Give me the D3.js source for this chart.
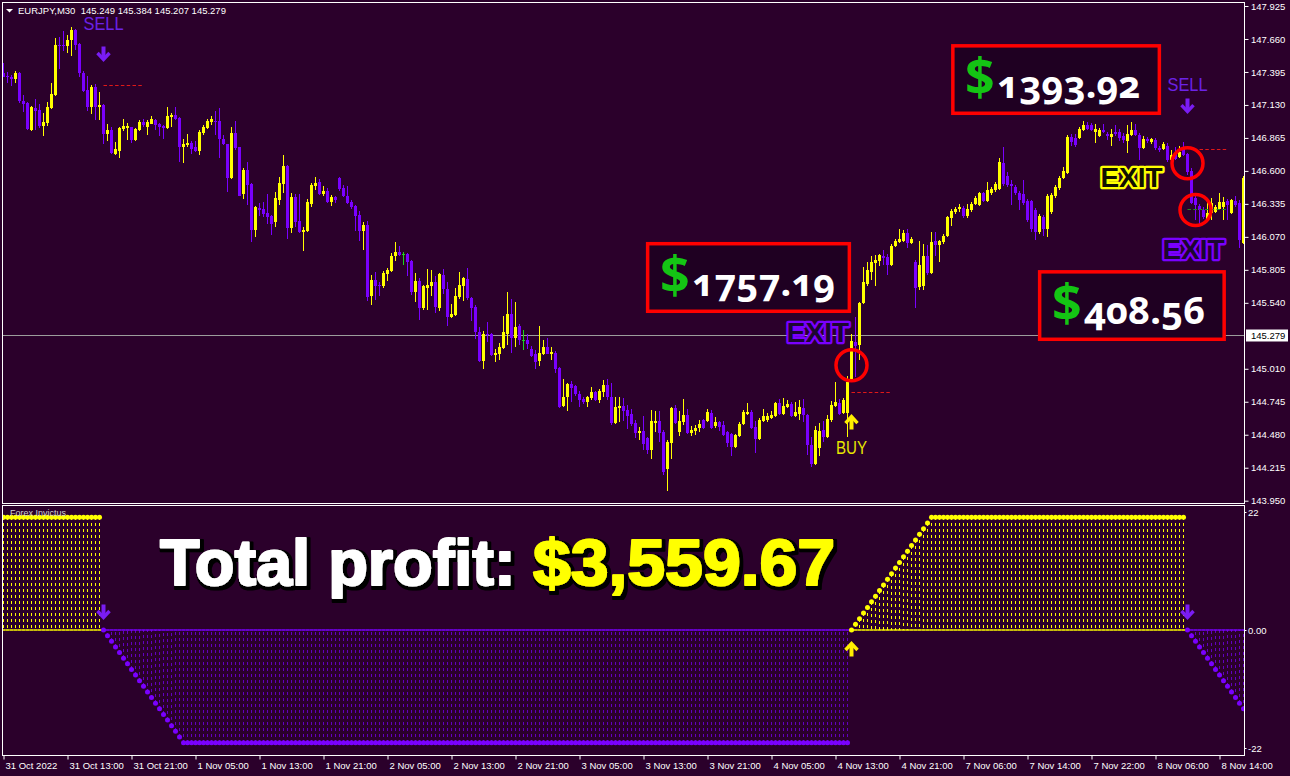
<!DOCTYPE html>
<html><head><meta charset="utf-8">
<script src="https://cdn.jsdelivr.net/npm/d3@7"></script>
<style>
html,body{margin:0;padding:0;background:#2b002b;}
svg{display:block;}
</style></head>
<body>
<svg id="chart" width="1290" height="776"></svg>
<script>
// ---------------- DATA ----------------
const symbolTitle = "EURJPY,M30";
const headerValues = ["145.249", "145.384", "145.207", "145.279"];
const currentPrice = 145.279;
const indicatorName = "Forex Invictus";

const opens = [
147.389,147.362,147.357,147.338,147.386,147.162,147.145,146.928,147.105,147.089,
146.961,146.987,147.105,147.210,147.611,147.611,147.603,147.652,147.732,147.619,
147.384,147.250,147.111,147.274,147.111,147.129,146.896,146.928,146.736,146.760,
146.936,146.945,146.950,146.848,146.928,146.993,146.950,146.977,147.009,146.977,
146.961,146.945,147.033,147.049,147.025,146.792,146.808,146.824,146.792,146.760,
146.904,146.945,146.993,147.001,147.001,146.856,146.816,146.543,146.904,146.792,
146.417,146.607,146.495,146.127,146.304,146.294,146.262,146.237,146.192,146.366,
146.495,146.642,146.141,146.390,146.197,146.109,146.117,146.334,146.479,146.511,
146.414,146.438,146.350,146.390,146.543,146.462,146.398,146.350,146.318,146.245,
146.117,146.165,145.595,145.723,145.683,145.675,145.771,145.796,145.916,145.948,
145.932,145.932,145.876,145.627,145.715,145.498,145.659,145.675,145.707,145.498,
145.763,145.651,145.426,145.442,145.587,145.675,145.731,145.579,145.506,145.305,
145.072,145.289,145.289,145.121,145.129,145.177,145.289,145.450,145.257,145.354,
145.241,145.241,145.169,145.129,145.072,145.129,145.185,145.129,145.137,145.016,
144.711,144.783,144.888,144.871,144.807,144.767,144.743,144.775,144.823,144.759,
144.823,144.880,144.783,144.574,144.695,144.711,144.679,144.647,144.574,144.494,
144.510,144.454,144.357,144.574,144.590,144.502,144.205,144.413,144.695,144.502,
144.582,144.638,144.494,144.510,144.534,144.598,144.590,144.655,144.550,144.582,
144.558,144.502,144.486,144.381,144.470,144.566,144.647,144.663,144.542,144.446,
144.590,144.598,144.614,144.630,144.735,144.647,144.703,144.727,144.630,144.647,
144.695,144.638,144.397,144.245,144.373,144.518,144.462,144.598,144.711,144.735,
144.655,144.655,144.904,145.225,145.201,145.538,145.691,145.788,145.860,145.876,
145.916,145.908,145.844,145.996,146.029,146.037,146.101,146.021,145.868,145.667,
145.675,145.916,145.780,146.037,146.005,146.029,146.077,146.221,146.270,146.294,
146.302,146.237,146.286,146.334,146.326,146.422,146.358,146.422,146.446,146.454,
146.663,146.559,146.495,146.470,146.422,146.414,146.358,146.358,146.286,146.109,
146.229,146.133,146.270,146.398,146.462,146.543,146.583,146.872,146.864,146.864,
146.928,146.969,146.969,146.912,146.880,146.928,146.896,146.872,146.912,146.912,
146.880,146.840,146.888,146.928,146.888,146.784,146.856,146.832,146.848,146.784,
146.776,146.800,146.687,146.736,146.712,146.776,146.736,146.599,146.382,146.318,
146.286,146.213,146.262,146.270,146.294,146.310,146.358,146.262,146.358,146.342,
146.021];

const highs = [
147.464,147.397,147.370,147.403,147.394,147.210,147.150,147.121,147.178,147.137,
147.067,147.153,147.306,147.665,147.673,147.724,147.692,147.758,147.738,147.625,
147.403,147.362,147.290,147.298,147.234,147.135,146.977,146.950,146.832,146.955,
147.017,146.982,146.955,146.945,147.009,147.014,147.009,147.041,147.014,146.982,
146.966,147.113,147.065,147.113,147.035,146.856,146.896,146.840,146.840,146.928,
146.969,147.017,147.041,147.084,147.103,146.888,146.820,146.953,147.001,146.795,
146.623,146.671,146.500,146.315,146.342,146.350,146.414,146.245,146.430,146.551,
146.728,146.645,146.422,146.414,146.414,146.149,146.374,146.503,146.551,146.535,
146.479,146.462,146.406,146.395,146.548,146.487,146.479,146.366,146.326,146.278,
146.189,146.197,145.763,145.788,145.707,145.796,145.820,145.940,146.029,145.996,
145.948,145.937,145.884,145.780,145.739,145.683,145.812,145.804,145.755,145.780,
145.812,145.707,145.530,145.659,145.788,145.747,145.820,145.587,145.522,145.346,
145.313,145.386,145.297,145.169,145.217,145.434,145.627,145.571,145.546,145.370,
145.321,145.289,145.193,145.161,145.354,145.241,145.257,145.185,145.153,145.024,
144.928,144.892,144.912,144.880,144.831,144.783,144.791,144.863,144.831,144.847,
144.920,144.928,144.896,144.783,144.783,144.775,144.719,144.687,144.598,144.542,
144.630,144.462,144.679,144.671,144.671,144.518,144.438,144.703,144.719,144.671,
144.767,144.687,144.550,144.558,144.598,144.606,144.687,144.679,144.622,144.590,
144.590,144.510,144.494,144.486,144.582,144.679,144.735,144.679,144.590,144.614,
144.687,144.655,144.671,144.743,144.767,144.775,144.759,144.743,144.743,144.759,
144.767,144.647,144.462,144.550,144.574,144.590,144.638,144.751,144.904,144.767,
144.775,144.952,145.289,145.426,145.545,145.828,145.868,145.916,145.924,145.932,
145.964,145.932,146.013,146.053,146.133,146.125,146.133,146.069,145.884,146.037,
146.013,146.005,146.109,146.109,146.045,146.093,146.237,146.294,146.310,146.334,
146.318,146.334,146.350,146.398,146.430,146.430,146.511,146.470,146.511,146.703,
146.792,146.591,146.527,146.487,146.438,146.527,146.374,146.366,146.302,146.254,
146.245,146.414,146.422,146.487,146.559,146.631,146.888,146.896,146.896,146.953,
147.001,146.993,146.985,146.977,146.945,146.977,146.912,146.936,146.969,146.936,
146.904,146.969,146.993,146.977,146.904,146.880,146.872,146.864,146.864,146.800,
146.832,146.824,146.768,146.792,146.800,146.832,146.744,146.623,146.398,146.334,
146.310,146.366,146.382,146.326,146.422,146.390,146.374,146.374,146.398,146.366,
146.559];

const lows = [
147.352,147.304,147.284,147.304,147.143,147.076,146.928,146.920,146.928,146.945,
146.880,146.961,147.100,147.202,147.419,147.563,147.550,147.523,147.571,147.357,
147.234,147.084,147.057,147.009,147.009,146.816,146.842,146.736,146.730,146.706,
146.920,146.848,146.826,146.842,146.918,146.955,146.888,146.974,146.928,146.880,
146.856,146.940,146.950,147.009,146.674,146.663,146.792,146.736,146.752,146.730,
146.888,146.936,146.969,146.888,146.703,146.810,146.430,146.535,146.768,146.398,
146.376,146.328,146.031,146.071,146.237,146.229,146.173,146.085,146.151,146.326,
146.422,146.053,146.103,146.151,146.105,145.956,146.109,146.312,146.446,146.406,
146.398,146.342,146.318,146.342,146.438,146.390,146.334,146.294,146.117,146.037,
145.964,145.554,145.522,145.563,145.595,145.659,145.715,145.790,145.876,145.916,
145.844,145.755,145.603,145.546,145.402,145.482,145.482,145.595,145.458,145.474,
145.611,145.354,145.418,145.434,145.571,145.554,145.563,145.394,145.249,145.064,
145.008,145.225,145.113,145.064,145.080,145.169,145.201,145.137,145.185,145.201,
145.161,145.169,145.104,145.008,145.032,145.121,145.125,145.080,144.976,144.695,
144.703,144.671,144.743,144.791,144.703,144.727,144.703,144.759,144.755,144.735,
144.783,144.759,144.558,144.570,144.582,144.590,144.526,144.550,144.454,144.438,
144.357,144.325,144.285,144.502,144.421,144.156,144.028,144.285,144.566,144.470,
144.558,144.486,144.470,144.478,144.502,144.526,144.582,144.526,144.534,144.510,
144.470,144.381,144.309,144.373,144.462,144.558,144.638,144.526,144.333,144.438,
144.582,144.582,144.606,144.622,144.638,144.638,144.695,144.622,144.622,144.598,
144.582,144.317,144.221,144.237,144.309,144.421,144.454,144.582,144.703,144.638,
144.647,144.462,144.900,144.944,145.080,145.530,145.675,145.723,145.675,145.836,
145.844,145.763,145.836,145.988,146.021,146.029,145.980,146.013,145.498,145.643,
145.643,145.763,145.775,145.916,145.868,146.013,146.069,146.157,146.254,146.270,
146.221,146.221,146.270,146.326,146.318,146.350,146.350,146.406,146.430,146.446,
146.479,146.470,146.326,146.406,146.286,146.326,146.189,146.109,146.045,146.093,
146.077,146.069,146.254,146.382,146.446,146.535,146.575,146.800,146.792,146.856,
146.920,146.928,146.920,146.824,146.872,146.904,146.848,146.800,146.880,146.840,
146.824,146.744,146.880,146.880,146.687,146.776,146.824,146.816,146.768,146.752,
146.768,146.671,146.655,146.687,146.703,146.720,146.567,146.334,146.205,146.165,
146.213,146.205,146.205,146.262,146.286,146.205,146.205,146.254,146.310,145.980,
146.013];

const closes = [
147.357,147.354,147.338,147.389,147.162,147.140,146.936,147.113,147.081,146.961,
146.993,147.113,147.218,147.611,147.603,147.603,147.652,147.732,147.611,147.384,
147.242,147.111,147.274,147.111,147.129,146.896,146.928,146.741,146.773,146.945,
146.961,146.961,146.848,146.936,146.993,146.966,146.993,147.017,146.969,146.953,
146.945,147.041,147.051,147.017,146.792,146.816,146.824,146.776,146.760,146.912,
146.953,147.001,147.017,146.993,146.856,146.816,146.545,146.904,146.784,146.401,
146.607,146.489,146.127,146.310,146.288,146.256,146.229,146.176,146.382,146.503,
146.642,146.141,146.390,146.189,146.109,146.127,146.352,146.487,146.503,146.414,
146.438,146.350,146.390,146.366,146.454,146.398,146.342,146.310,146.237,146.117,
146.165,145.587,145.723,145.675,145.675,145.780,145.804,145.916,145.948,145.924,
145.932,145.868,145.627,145.715,145.498,145.675,145.683,145.707,145.506,145.771,
145.651,145.426,145.450,145.595,145.683,145.739,145.579,145.498,145.305,145.072,
145.289,145.281,145.121,145.137,145.185,145.305,145.450,145.257,145.346,145.241,
145.241,145.209,145.113,145.064,145.137,145.185,145.129,145.145,145.008,144.703,
144.783,144.888,144.855,144.807,144.759,144.743,144.783,144.823,144.759,144.831,
144.880,144.783,144.574,144.703,144.711,144.671,144.630,144.566,144.494,144.510,
144.405,144.357,144.590,144.590,144.494,144.180,144.421,144.695,144.574,144.590,
144.638,144.494,144.518,144.534,144.566,144.534,144.663,144.534,144.582,144.542,
144.478,144.413,144.381,144.478,144.566,144.663,144.663,144.534,144.446,144.598,
144.630,144.630,144.638,144.735,144.647,144.711,144.727,144.630,144.663,144.703,
144.638,144.397,144.245,144.518,144.510,144.462,144.606,144.719,144.743,144.647,
144.759,144.904,145.233,145.193,145.538,145.707,145.804,145.868,145.884,145.924,
145.900,145.844,145.996,146.037,146.053,146.101,146.021,146.053,145.659,145.844,
145.916,145.780,146.029,146.005,146.037,146.077,146.229,146.278,146.294,146.310,
146.237,146.294,146.334,146.382,146.422,146.358,146.446,146.454,146.495,146.671,
146.495,146.487,146.479,146.422,146.366,146.342,146.205,146.133,146.109,146.237,
146.133,146.398,146.406,146.470,146.543,146.599,146.872,146.832,146.808,146.936,
146.969,146.936,146.928,146.936,146.928,146.912,146.880,146.896,146.896,146.864,
146.848,146.896,146.928,146.888,146.784,146.856,146.840,146.856,146.784,146.768,
146.816,146.687,146.728,146.695,146.752,146.728,146.591,146.342,146.326,146.286,
146.229,146.262,146.342,146.310,146.350,146.350,146.326,146.366,146.326,146.045,
146.543];

// Forex Invictus indicator value per bar
const indicatorValues = [
21,21,21,21,21,21,21,21,21,21,
21,21,21,21,21,21,21,21,21,21,
21,21,21,21,21,
0,-1.05,-2.1,-3.15,-4.2,-5.25,-6.3,-7.35,-8.4,-9.45,
-10.5,-11.55,-12.6,-13.65,-14.7,-15.75,-16.8,-17.85,-18.9,-19.95,-21,
-21,-21,-21,-21,-21,-21,-21,-21,-21,-21,
-21,-21,-21,-21,-21,-21,-21,-21,-21,-21,
-21,-21,-21,-21,-21,-21,-21,-21,-21,-21,
-21,-21,-21,-21,-21,-21,-21,-21,-21,-21,
-21,-21,-21,-21,-21,-21,-21,-21,-21,-21,
-21,-21,-21,-21,-21,-21,-21,-21,-21,-21,
-21,-21,-21,-21,-21,-21,-21,-21,-21,-21,
-21,-21,-21,-21,-21,-21,-21,-21,-21,-21,
-21,-21,-21,-21,-21,-21,-21,-21,-21,-21,
-21,-21,-21,-21,-21,-21,-21,-21,-21,-21,
-21,-21,-21,-21,-21,-21,-21,-21,-21,-21,
-21,-21,-21,-21,-21,-21,-21,-21,-21,-21,
-21,-21,-21,-21,-21,-21,-21,-21,-21,-21,
-21,-21,-21,-21,-21,-21,-21,-21,-21,-21,
-21,-21,-21,-21,-21,-21,-21,-21,-21,-21,
-21,-21,-21,-21,-21,-21,-21,-21,-21,-21,
-21,-21,-21,-21,-21,-21,
0,1.05,2.1,3.15,4.2,5.25,6.3,7.35,8.4,9.45,
10.5,11.55,12.6,13.65,14.7,15.75,16.8,17.85,18.9,19.95,21,
21,21,21,21,21,21,21,21,21,21,
21,21,21,21,21,21,21,21,21,21,
21,21,21,21,21,21,21,21,21,21,
21,21,21,21,21,21,21,21,21,21,
21,21,21,21,21,21,21,21,21,21,
21,21,21,21,21,21,21,21,21,21,
21,21,21,
0,-1.05,-2.1,-3.15,-4.2,-5.25,-6.3,-7.35,-8.4,-9.45,
-10.5,-11.55,-12.6,-13.65,-14.7];

const priceTicks = [147.925,147.660,147.395,147.130,146.865,146.600,146.335,146.070,145.805,145.540,145.010,144.745,144.480,144.215,143.950];
const indicatorTicks = [22, 0, -22];
const indicatorTickLabels = ["22", "0.00", "-22"];
const timeTickBars = [0,16,32,48,64,80,96,112,128,144,160,176,192,208,224,240,256,272,288,304];
const timeTickLabels = ["31 Oct 2022","31 Oct 13:00","31 Oct 21:00","1 Nov 05:00","1 Nov 13:00","1 Nov 21:00",
  "2 Nov 05:00","2 Nov 13:00","2 Nov 21:00","3 Nov 05:00","3 Nov 13:00","3 Nov 21:00","4 Nov 05:00",
  "4 Nov 13:00","4 Nov 21:00","7 Nov 06:00","7 Nov 14:00","7 Nov 22:00","8 Nov 06:00","8 Nov 14:00"];

const signalBars = [25, 212, 296];
const signalTypes = ["SELL", "BUY", "SELL"];
const signalArrowPrices = [147.483, 144.638, 147.065];
const signalTextPrices = [147.732, 144.325, 147.242];

const levelFrom = [25, 212, 299, 296];
const levelTo = [35, 222, 306, 306];
const levelPrices = [147.290, 144.823, 146.776, 146.294];
const levelKinds = ["stop", "stop", "stop", "target"];

const exitCircleBars = [212, 296, 298];
const exitCirclePrices = [145.038, 146.661, 146.286];

const exitLabelBars = [203.6, 282, 297.5];
const exitLabelPrices = [145.225, 146.470, 145.892];
const exitLabelKinds = ["SELL", "BUY", "SELL"];

const profitLabels = ["1757.19", "1393.92", "408.56"];
const profitBarFrom = [160.6, 236.9, 258.6];
const profitBarTo = [211.9, 289.4, 305.6];
const profitPriceTop = [146.029, 147.619, 145.803];
const profitPriceBottom = [145.458, 147.049, 145.233];

const totalProfitLabel = "Total profit:";
const totalProfitValue = "$3,559.67";

// ---------------- DRAWING ----------------
const W = 1290, H = 776;
const col = {
  bg: "#2b002b", bull: "#ffff00", bear: "#7a00ff", doji: "#1fd21f",
  frame: "#ffffff", text: "#ffffff", bid: "#9c9c9c", red: "#ff0000",
  sellText: "#6c22e6", buyText: "#e6e600", boxFill: "#1f0022", dollar: "#14c414", green: "#1e8c1e"
};
const pane = {left: 2.5, right: 1244.5, top: 2.5, bottom: 503.5};
const ipane = {top: 505.5, bottom: 755.5};
const AX = "'Liberation Sans', Arial, sans-serif";
const AXS = 9.5;

const svg = d3.select("#chart");
svg.append("rect").attr("width", W).attr("height", H).attr("fill", col.bg);

const nBars = opens.length;
const x = d3.scaleLinear().domain([0, nBars - 1]).range([3.5, 1243.5]);
const y = d3.scaleLinear().domain([143.950, 147.925]).range([500.7, 6]);
const yi = d3.scaleLinear().domain([-22, 22]).range([748, 512]);

const defs = svg.append("defs");
defs.append("clipPath").attr("id", "clipP").append("rect")
  .attr("x", pane.left).attr("y", pane.top).attr("width", pane.right - pane.left).attr("height", pane.bottom - pane.top);
defs.append("clipPath").attr("id", "clipI").append("rect")
  .attr("x", pane.left).attr("y", ipane.top).attr("width", pane.right - pane.left).attr("height", ipane.bottom - ipane.top);
const flt = defs.append("filter").attr("id", "outline").attr("x", "-10%").attr("y", "-20%").attr("width", "120%").attr("height", "150%");
flt.append("feMorphology").attr("in", "SourceAlpha").attr("operator", "dilate").attr("radius", 2.2).attr("result", "dil");
flt.append("feOffset").attr("in", "dil").attr("dx", 1.5).attr("dy", 2).attr("result", "off");
flt.append("feFlood").attr("flood-color", "#000").attr("result", "blk");
flt.append("feComposite").attr("in", "blk").attr("in2", "off").attr("operator", "in").attr("result", "shadow");
const fm = flt.append("feMerge");
fm.append("feMergeNode").attr("in", "shadow");
fm.append("feMergeNode").attr("in", "SourceGraphic");

const bars = opens.map((o, i) => ({i, o, h: highs[i], l: lows[i], c: closes[i]}));
const candleColor = d => d.c > d.o ? col.bull : (d.c < d.o ? col.bear : col.doji);

// regime per bar (from signals)
const regime = bars.map(d => {
  let t = signalTypes[0] === "SELL" ? "BUY" : "SELL";
  signalBars.forEach((b, k) => { if (d.i >= b) t = signalTypes[k]; });
  return t;
});
const regimeColor = i => regime[i] === "BUY" ? col.bull : col.bear;

// ---- price pane ----
const gP = svg.append("g").attr("clip-path", "url(#clipP)");

// bid line
const yBid = Math.round(y(currentPrice)) + 0.5;
gP.append("line").attr("x1", pane.left).attr("x2", pane.right).attr("y1", yBid).attr("y2", yBid)
  .attr("stroke", col.bid).attr("stroke-width", 1);

// candles
const gC = gP.append("g").attr("shape-rendering", "crispEdges");
gC.selectAll("rect.wick").data(bars).join("rect").attr("class", "wick")
  .attr("x", d => x(d.i) - 0.5).attr("width", 1)
  .attr("y", d => Math.round(y(d.h)))
  .attr("height", d => Math.max(1, Math.round(y(d.l)) - Math.round(y(d.h))))
  .attr("fill", candleColor);
gC.selectAll("rect.body").data(bars).join("rect").attr("class", "body")
  .attr("x", d => x(d.i) - 1.5).attr("width", 3)
  .attr("y", d => Math.round(Math.min(y(d.o), y(d.c))))
  .attr("height", d => Math.max(1, Math.round(Math.max(y(d.o), y(d.c))) - Math.round(Math.min(y(d.o), y(d.c)))))
  .attr("fill", candleColor);

// level lines
levelPrices.forEach((p, k) => {
  const yy = Math.round(y(p)) + 0.5;
  gP.append("line").attr("x1", x(levelFrom[k])).attr("x2", x(levelTo[k]))
    .attr("y1", yy).attr("y2", yy)
    .attr("stroke", levelKinds[k] === "stop" ? "#e01818" : col.green)
    .attr("stroke-width", 1).attr("stroke-dasharray", "3.5,2.3");
});

function arrow(g, cx, tipY, dir, color) {
  // dir = 1 pointing down, -1 pointing up
  g.append("line").attr("x1", cx).attr("x2", cx)
    .attr("y1", tipY - dir * 14.5).attr("y2", tipY - dir * 3)
    .attr("stroke", color).attr("stroke-width", 4);
  g.append("path")
    .attr("d", `M${cx - 6},${tipY - dir * 8} L${cx},${tipY - dir * 1.5} L${cx + 6},${tipY - dir * 8}`)
    .attr("fill", "none").attr("stroke", color).attr("stroke-width", 3.4).attr("stroke-linejoin", "miter");
}

// signals
signalBars.forEach((b, k) => {
  const isSell = signalTypes[k] === "SELL";
  const c = isSell ? "#7a1cf4" : "#ffee00";
  arrow(gP, x(b), y(signalArrowPrices[k]), isSell ? 1 : -1, c);
  gP.append("text").attr("x", x(b)).attr("y", y(signalTextPrices[k]))
    .attr("text-anchor", "middle").attr("font-family", AX).attr("font-size", 18)
    .attr("textLength", isSell ? 40 : 31).attr("lengthAdjust", "spacingAndGlyphs")
    .attr("fill", isSell ? col.sellText : col.buyText).text(signalTypes[k]);
});

// exit circles
exitCircleBars.forEach((b, k) => {
  gP.append("circle").attr("cx", x(b)).attr("cy", y(exitCirclePrices[k])).attr("r", 15.5)
    .attr("fill", "none").attr("stroke", col.red).attr("stroke-width", 3.5);
});

// EXIT labels
exitLabelBars.forEach((b, k) => {
  const isSell = exitLabelKinds[k] === "SELL";
  gP.append("text").attr("x", x(b)).attr("y", y(exitLabelPrices[k]))
    .attr("text-anchor", "middle").attr("font-family", AX).attr("font-weight", "bold").attr("font-size", 28)
    .attr("fill", isSell ? "#1c0630" : "#121000")
    .attr("stroke", isSell ? "#7a00ff" : "#ffff00").attr("stroke-width", 4.6)
    .attr("stroke-linejoin", "round").attr("paint-order", "stroke")
    .text("EXIT");
});

// profit boxes
profitLabels.forEach((lab, k) => {
  const x0 = x(profitBarFrom[k]), x1 = x(profitBarTo[k]);
  const y0 = y(profitPriceTop[k]), y1 = y(profitPriceBottom[k]);
  const g = gP.append("g");
  g.append("rect").attr("x", x0 + 1.75).attr("y", y0 + 1.75)
    .attr("width", x1 - x0 - 3.5).attr("height", y1 - y0 - 3.5)
    .attr("fill", col.boxFill).attr("stroke", col.red).attr("stroke-width", 3.5);
  g.append("text").attr("x", x0 + 14).attr("y", y0 + 52)
    .attr("font-family", "'Noto Sans', 'Liberation Sans', sans-serif").attr("font-weight", "bold").attr("font-size", 52)
    .attr("fill", col.dollar).text("$");
  g.append("text").attr("x", x0 + 46).attr("y", y0 + 54)
    .attr("font-family", "'Noto Sans', 'Liberation Sans', sans-serif").attr("font-weight", "bold").attr("font-size", 38)
    .style("font-variant-numeric", "oldstyle-nums")
    .attr("fill", "#ffffff").text(lab);
});

// ---- indicator pane ----
const gI = svg.append("g").attr("clip-path", "url(#clipI)");
const y0i = yi(0);
// histogram (dashed)
gI.append("g").selectAll("line").data(bars.filter(d => indicatorValues[d.i] !== 0)).join("line")
  .attr("x1", d => x(d.i)).attr("x2", d => x(d.i))
  .attr("y1", d => yi(indicatorValues[d.i])).attr("y2", y0i)
  .attr("stroke", d => regimeColor(d.i)).attr("stroke-width", 1)
  .attr("stroke-dasharray", "3,3").attr("shape-rendering", "crispEdges")
  .attr("opacity", d => regime[d.i] === "BUY" ? 1 : 0.7);
// zero signal line
gI.append("g").selectAll("line").data(bars).join("line")
  .attr("x1", d => x(d.i) - 2).attr("x2", d => x(d.i) + 2)
  .attr("y1", y0i).attr("y2", y0i)
  .attr("stroke", d => regimeColor(d.i)).attr("stroke-width", 1.4);
// dots
gI.append("g").selectAll("circle").data(bars).join("circle")
  .attr("cx", d => x(d.i)).attr("cy", d => yi(indicatorValues[d.i])).attr("r", 2.5)
  .attr("fill", d => regimeColor(d.i));
// indicator arrows
signalBars.forEach((b, k) => {
  const isSell = signalTypes[k] === "SELL";
  arrow(gI, x(b), isSell ? y0i - 11 : y0i + 12, isSell ? 1 : -1, isSell ? "#7a1cf4" : "#ffee00");
});
// indicator name label (on top)
svg.append("text").attr("x", 10).attr("y", 516).attr("font-family", AX).attr("font-size", 9)
  .attr("fill", "#d0d0d0").text(indicatorName);

// Total profit text (single text per part, outline + shadow via filter)
const tp = svg.append("g").attr("font-family", AX).attr("font-weight", "bold").attr("font-size", 64)
  .attr("filter", "url(#outline)");
tp.append("text").attr("x", 160).attr("y", 585).attr("textLength", 355.5).attr("lengthAdjust", "spacingAndGlyphs")
  .attr("fill", "#ffffff").attr("stroke", "#ffffff").attr("stroke-width", 2).attr("stroke-linejoin", "round")
  .text(totalProfitLabel);
tp.append("text").attr("x", 533).attr("y", 585).attr("textLength", 302).attr("lengthAdjust", "spacingAndGlyphs")
  .attr("fill", "#ffff00").attr("stroke", "#ffff00").attr("stroke-width", 2).attr("stroke-linejoin", "round")
  .text(totalProfitValue);

// ---- frames ----
svg.append("rect").attr("x", pane.left).attr("y", pane.top).attr("width", pane.right - pane.left)
  .attr("height", pane.bottom - pane.top).attr("fill", "none").attr("stroke", col.frame);
svg.append("rect").attr("x", pane.left).attr("y", ipane.top).attr("width", pane.right - pane.left)
  .attr("height", ipane.bottom - ipane.top).attr("fill", "none").attr("stroke", col.frame);

function styleAxis(g, size) {
  g.select("path.domain").remove();
  g.selectAll(".tick line").attr("stroke", col.frame);
  g.selectAll(".tick text").attr("fill", col.text).attr("font-family", AX).attr("font-size", size);
}

// price axis
const gPA = svg.append("g").attr("transform", `translate(${pane.right},0)`)
  .call(d3.axisRight(y).tickValues(priceTicks).tickFormat(d3.format(".3f")).tickSize(4).tickPadding(2.5));
styleAxis(gPA, AXS);
// current price label
const bidG = svg.append("g");
bidG.append("rect").attr("x", 1246).attr("y", yBid - 6).attr("width", 42).attr("height", 12).attr("fill", "#ffffff");
bidG.append("text").attr("x", 1251).attr("y", yBid + 3.4).attr("font-family", AX).attr("font-size", AXS)
  .attr("fill", "#000").text(d3.format(".3f")(currentPrice));

// indicator axis
const gIA = svg.append("g").attr("transform", `translate(${pane.right},0)`)
  .call(d3.axisRight(yi).tickValues(indicatorTicks).tickFormat((d, i) => indicatorTickLabels[i]).tickSize(2).tickPadding(1.5));
styleAxis(gIA, AXS);

// time axis
const gTA = svg.append("g").attr("transform", `translate(0,${ipane.bottom})`)
  .call(d3.axisBottom(x).tickValues(timeTickBars).tickFormat((d, i) => timeTickLabels[i]).tickSize(4).tickPadding(2.5));
styleAxis(gTA, AXS);
gTA.selectAll(".tick text").attr("text-anchor", "start").attr("dx", 1.5);

// header
svg.append("path").attr("d", "M6,9 L13,9 L9.5,12.5 Z").attr("fill", "#ffffff");
svg.append("text").attr("x", 18).attr("y", 14).attr("font-family", AX).attr("font-size", 9.5)
  .attr("fill", "#ffffff").attr("xml:space", "preserve")
  .text(symbolTitle + "  " + headerValues.join(" "));
</script>
</body></html>
